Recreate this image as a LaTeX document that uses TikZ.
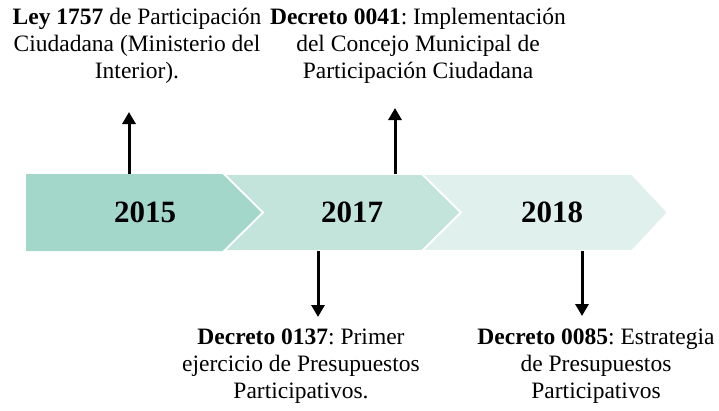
\documentclass[tikz,border=0pt]{standalone}
\usepackage{fontspec}
\setmainfont{Liberation Serif}
\usetikzlibrary{arrows.meta}
\definecolor{segA}{HTML}{A3D7CA}
\definecolor{segB}{HTML}{C3E4DB}
\definecolor{segC}{HTML}{E0F1ED}
\frenchspacing
\begin{document}
\begin{tikzpicture}[x=1pt,y=-1pt,
  seg/.style={draw=white, line width=1.8pt, line join=miter},
  year/.style={font=\fontsize{31}{36}\selectfont\bfseries, inner sep=0pt},
  note/.style={font=\fontsize{23.5}{27}\selectfont, align=center, inner sep=0pt},
  conn/.style={line width=3pt, -{Triangle[width=13pt,length=12pt]}}]
\useasboundingbox (0,0) rectangle (719,410);
% band
\fill[segA] (26,174) -- (224,174) -- (263,212.5) -- (224,251) -- (26,251) -- cycle;
\filldraw[seg, fill=segB] (224,174) -- (422,174) -- (461,212.5) -- (422,251) -- (224,251) -- (263,212.5) -- cycle;
\filldraw[seg, fill=segC] (422,174) -- (632,174) -- (668,212.5) -- (632,251) -- (422,251) -- (461,212.5) -- cycle;
% years
\node[year] (y1) at (145,212.5) {2015};
\node[year] (y2) at (352,212.5) {2017};
\node[year] (y3) at (552,212.5) {2018};
% notes
\node[note, anchor=north] (t1) at (137,8) {\textbf{Ley 1757} de Participación\\Ciudadana (Ministerio del\\Interior).};
\node[note, anchor=north] (t2) at (418,8) {\textbf{Decreto 0041}: Implementación\\del Concejo Municipal de\\Participación Ciudadana};
\node[note, anchor=north] (t3) at (301,329) {\textbf{Decreto 0137}: Primer\\ejercicio de Presupuestos\\Participativos.};
\node[note, anchor=north] (t4) at (596,329) {\textbf{Decreto 0085}: Estrategia\\de Presupuestos\\Participativos};
% connectors
\coordinate (a1s) at (129,174); \coordinate (a1e) at (129,112);
\coordinate (a2s) at (395,174); \coordinate (a2e) at (395,108);
\coordinate (a3s) at (318,251); \coordinate (a3e) at (318,317);
\coordinate (a4s) at (582,251); \coordinate (a4e) at (582,316);
\draw[conn] (a1s) -- (a1e);
\draw[conn] (a2s) -- (a2e);
\draw[conn] (a3s) -- (a3e);
\draw[conn] (a4s) -- (a4e);
\end{tikzpicture}
\end{document}
